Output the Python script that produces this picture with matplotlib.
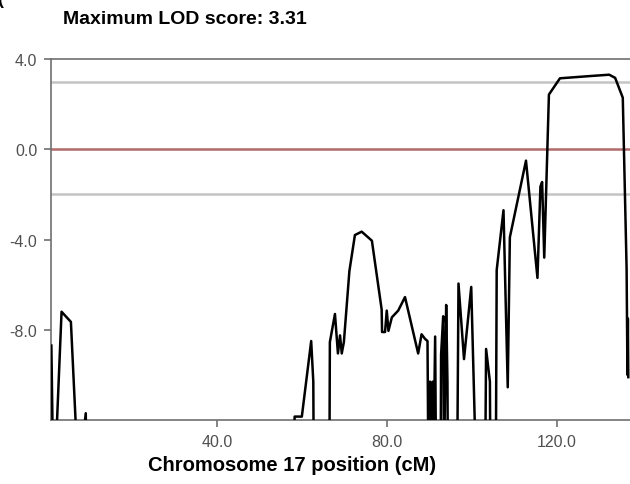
import matplotlib
matplotlib.use("Agg")
import matplotlib.pyplot as plt

plt.rcParams['font.family'] = ['Liberation Sans', 'DejaVu Sans']

# LOD profile along chromosome 17 (values below -12 fall off the axis)
position_cm = [1.0, 1.4, 1.9, 3.4, 5.6, 7.2, 7.8, 9.1, 9.3,
               58.0, 58.3, 60.0, 62.2, 62.7, 62.8,
               66.5, 66.6, 67.8, 68.5, 69.0, 69.4, 69.9, 71.2, 72.5, 74.1, 76.5,
               78.8, 78.9, 79.6, 80.0, 80.4, 81.2, 82.7, 84.3, 87.4, 88.2, 89.0, 89.6,
               89.8, 90.2, 90.4, 90.8, 91.0, 91.4, 91.6,
               92.7, 92.8, 93.3, 93.5, 94.0, 94.3, 94.4,
               96.6, 96.9, 98.2, 99.9, 101.0,
               103.2, 103.4, 104.3, 104.4,
               105.7, 105.9, 107.5, 108.5, 109.0, 112.8, 115.5, 116.2, 116.6, 117.1,
               118.2, 120.8, 127.9, 132.4, 133.8, 135.6, 136.5, 136.7, 136.8, 136.9]
lod_score = [-8.7, -14, -14, -7.2, -7.65, -14, -14, -11.7, -14,
             -14, -11.85, -11.85, -8.5, -10.3, -14,
             -14, -8.55, -7.3, -9.05, -8.25, -9.05, -8.55, -5.4, -3.8, -3.65, -4.05,
             -7.1, -8.1, -8.1, -7.15, -8.05, -7.45, -7.15, -6.55, -9.05, -8.2, -8.4, -8.5,
             -14, -10.3, -14, -10.3, -14, -8.3, -14,
             -14, -9.1, -7.4, -14, -6.9, -10.3, -14,
             -14, -5.95, -9.3, -6.1, -14,
             -14, -8.85, -10.3, -14,
             -14, -5.35, -2.7, -10.55, -3.9, -0.5, -5.7, -1.65, -1.45, -4.8,
             2.43, 3.15, 3.25, 3.31, 3.17, 2.29, -5.3, -10.0, -7.5, -10.1]

threshold_lines = [3.0, -2.0]
zero_line = 0.0
y_ticks = [4.0, 0.0, -4.0, -8.0]
x_ticks = [40.0, 80.0, 120.0]

fig = plt.figure(figsize=(6.3, 4.85), dpi=100)
ax = fig.add_axes([0.081, 0.132, 0.919, 0.744])

for t in threshold_lines:
    ax.axhline(t, color='#c4c4c4', lw=1.8, zorder=1)
ax.axhline(zero_line, color='#b06a6a', lw=1.8, zorder=1)

ax.plot(position_cm, lod_score, color='black', lw=1.8, zorder=3)

ax.set_xlim(0.92, 137.3)
ax.set_ylim(-12, 4)
ax.set_xticks(x_ticks)
ax.set_xticklabels([f"{v:.1f}" for v in x_ticks])
ax.set_yticks(y_ticks)
ax.set_yticklabels([f"{v:.1f}" for v in y_ticks])

for side in ['left', 'bottom', 'top']:
    ax.spines[side].set_color('#707070')
    ax.spines[side].set_linewidth(1.2)
ax.spines['right'].set_visible(False)
ax.tick_params(colors='#707070', labelcolor='#505050', labelsize=11.5, length=5, width=1.2, pad=5)

# axis title sits left of the axes centre in the original
fig.text(292 / 630, 1 - 466 / 485, "Chromosome 17 position (cM)", fontsize=14.5,
         fontweight='bold', ha='center', va='center')
fig.text(63 / 630, 1 - 19 / 485, "Maximum LOD score: 3.31", fontsize=14,
         fontweight='bold', ha='left', va='center')
fig.text(-0.004, 1.0, "(", fontsize=13, fontweight='bold', ha='left', va='center')

fig.savefig("out.png", dpi=100)
